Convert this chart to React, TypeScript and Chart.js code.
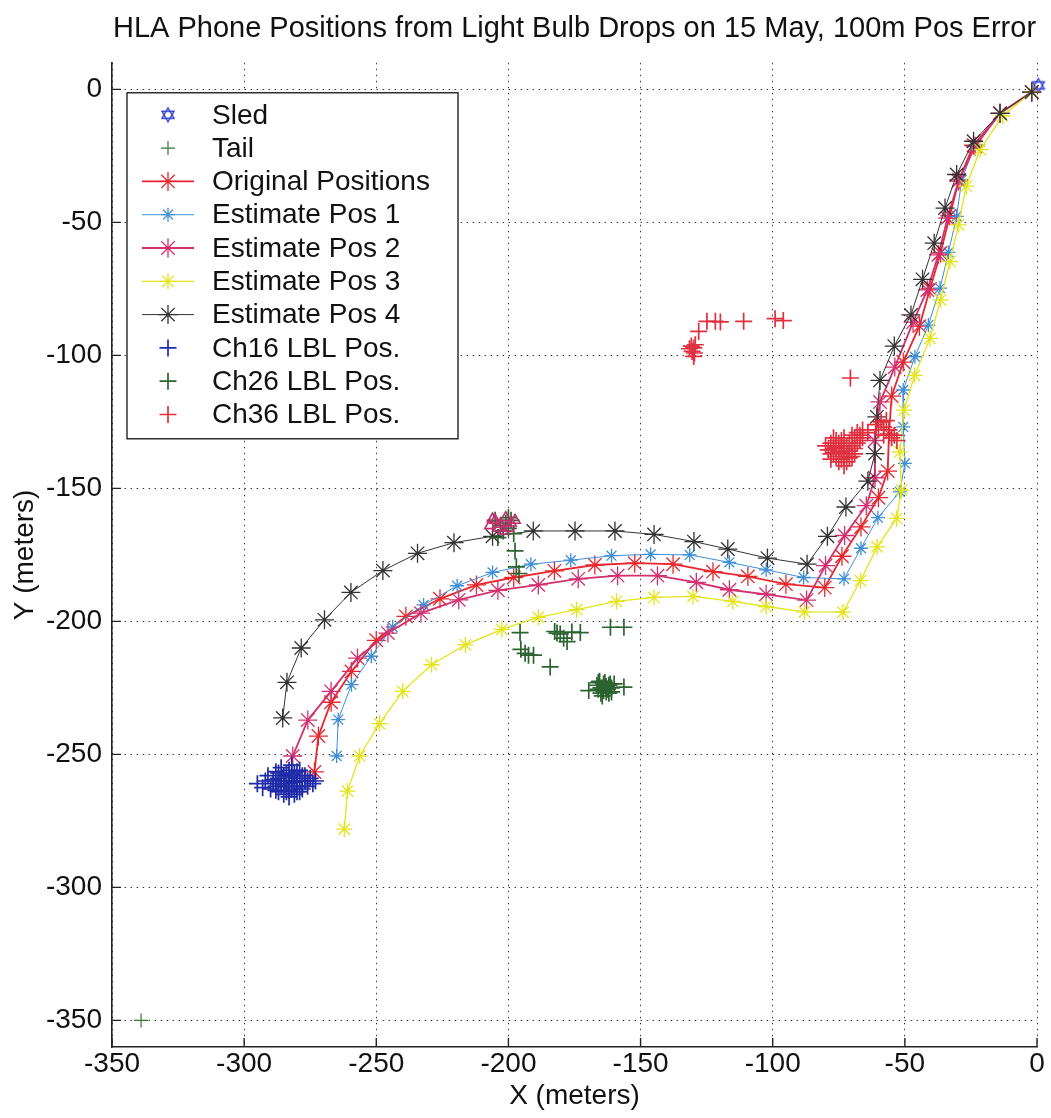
import React, { useEffect, useRef } from 'react';
import { Chart, registerables } from 'chart.js';
Chart.register(...registerables);

const TITLE = 'HLA Phone Positions from Light Bulb Drops on 15 May, 100m Pos Error';
const X_LABEL = 'X (meters)';
const Y_LABEL = 'Y (meters)';
const xTicks = [-350, -300, -250, -200, -150, -100, -50, 0];
const yTicks = [-350, -300, -250, -200, -150, -100, -50, 0];

const sled: [number, number][] = [[0.5, 1.5]];
const tail: [number, number][] = [[-339, -350]];

const originalPositions: [number, number][] = [
  [-2, -1], [-14, -9], [-24, -21], [-29.5, -34], [-33, -47.5], [-36.5, -61.5], [-40.5, -75], [-44.5, -89],
  [-50.6, -102.5], [-55, -115.3], [-56, -129.5], [-56.5, -143.5], [-60, -153.5], [-66.6, -164.5], [-73.8, -175.5],
  [-80.3, -187.3], [-95, -186], [-109.4, -183.1], [-122.6, -181.3], [-137.7, -178.5], [-152.2, -178.1],
  [-167.3, -178.8], [-182.6, -181], [-198, -183.5], [-212.1, -186.3], [-225.9, -191.5], [-238.8, -198.1],
  [-250, -207.1], [-259.4, -218.8], [-267.1, -230.4], [-271.9, -243.1], [-273.4, -256.6],
];

const estimatePos1: [number, number][] = [
  [-2, -1], [-14, -9], [-23.5, -21], [-28.5, -34], [-30.4, -47.7], [-33.5, -61.3], [-36.7, -74.7], [-41.1, -88.6],
  [-46.2, -100.5], [-50.6, -113], [-50.6, -126.9], [-50, -140.6], [-51.9, -151.3], [-60.2, -161], [-66.6, -172.5],
  [-73, -184], [-88.3, -183.5], [-102.5, -180.6], [-116.4, -177.8], [-131.4, -175], [-146.2, -174.8],
  [-161, -175.3], [-176.4, -177], [-191.5, -178.5], [-206, -181.6], [-219.4, -186.6], [-232.1, -193.8],
  [-243.8, -202.1], [-251.9, -213.1], [-259.4, -223.8], [-264.4, -236.9], [-265, -250.6],
];

const estimatePos2: [number, number][] = [
  [-2, -1], [-14, -9], [-23.4, -21.4], [-29.7, -34.5], [-33.9, -48.4], [-37.3, -62.2], [-41.5, -75.4], [-46.9, -87.5],
  [-53.8, -104.4], [-59.4, -117.5], [-61.5, -132], [-61.3, -146], [-64.6, -156.5], [-72.8, -167.7], [-80, -179],
  [-87.2, -192], [-102.5, -189.8], [-116.4, -188.1], [-128.9, -185.3], [-143.6, -182.8], [-158.7, -182.8],
  [-173.6, -184], [-188.7, -186.3], [-204, -188.3], [-218.8, -191.9], [-233.1, -196.9], [-245.6, -204.4],
  [-257.1, -213.8], [-267.1, -226.3], [-275.9, -237.1], [-281.6, -250.6],
];

const estimatePos3: [number, number][] = [
  [-2, -1], [-13, -10], [-21.5, -22.6], [-26.8, -36.4], [-29.7, -50.9], [-32.9, -64.7], [-36.5, -79.1], [-40.5, -93.6],
  [-46.3, -107.5], [-50.3, -120.6], [-51.9, -136.3], [-51.3, -150.6], [-53.1, -161.3], [-60.5, -172], [-66.8, -184.7],
  [-73.4, -196.5], [-88, -196.4], [-102.5, -194.4], [-115.1, -192.5], [-130.2, -190.6], [-144.9, -191],
  [-159.1, -192.5], [-174.2, -195.6], [-188.7, -198.5], [-202.5, -203], [-216.3, -208.8], [-229.1, -216.3],
  [-240, -226.3], [-248.8, -238.4], [-256.3, -250.6], [-260.9, -263.8], [-262.1, -278.1],
];

const estimatePos4: [number, number][] = [
  [-2, -1], [-14, -9], [-24, -19.5], [-30.4, -32], [-34.8, -44.6], [-38.9, -57.8], [-43.3, -71.4], [-47.7, -84.8],
  [-54, -96.5], [-59.4, -109.4], [-60.6, -123.1], [-61.3, -136.9], [-64, -147.3], [-72.3, -157], [-79.3, -168],
  [-87, -178.5], [-102, -176.2], [-117, -172.8], [-129.8, -170], [-144.9, -167.3], [-159.7, -166], [-174.8, -166],
  [-190.6, -166], [-206, -168], [-220.6, -170.4], [-234.4, -174.4], [-247.5, -180.9], [-259.6, -189.1],
  [-269.6, -199.4], [-278.4, -210], [-283.8, -222.9], [-285.4, -236.3],
];

const ch16Lbl: [number, number][] = [
  [-295, -261], [-293, -262.5], [-292, -260], [-290, -263], [-289, -259.5], [-288, -262], [-287, -257], [-286, -255],
  [-285, -258], [-284, -260], [-283, -256], [-282, -254], [-281, -257], [-280, -259], [-279, -256], [-278, -258],
  [-277, -260], [-276, -262], [-275, -259], [-274, -261], [-273, -260], [-285, -262], [-284, -264], [-283, -266],
  [-282, -263], [-281, -265], [-280, -262], [-279, -264], [-278, -262], [-286, -260], [-287, -264], [-284, -257.5],
  [-281, -260.5], [-283, -261], [-288, -256.5],
  [-291, -258], [-289, -261], [-287, -259], [-286, -262], [-285, -265], [-284, -262], [-283, -258.5], [-282, -260],
  [-281, -262], [-280, -256.5], [-279, -260], [-278, -263], [-277, -258], [-276, -260], [-287, -261], [-285, -260],
  [-283, -263.5], [-280, -264], [-282, -257.5], [-288, -263.5],
];

const ch26Lbl: [number, number][] = [
  [-205, -162], [-203, -164], [-201, -163], [-200, -165], [-199, -162], [-202, -166], [-204, -168.5], [-198, -167],
  [-200, -161], [-197.5, -173.5], [-197, -179.5], [-196, -182],
  [-195.6, -204.2], [-195.3, -210.5], [-193.7, -212], [-192.4, -212.7], [-190.5, -212.7], [-184.2, -217.1],
  [-182.5, -203.8], [-181.6, -204.4], [-180.4, -204.7], [-179.1, -206.3], [-177.8, -207.6], [-176, -204],
  [-172.8, -204.2], [-161.4, -202.2], [-156.3, -202.2],
  [-166.5, -224], [-165, -225], [-164, -226], [-163, -224.5], [-162, -227], [-161, -225], [-160, -223.5],
  [-164.5, -228], [-165.5, -222.5], [-163.5, -223], [-169.6, -226], [-156.3, -224.7], [-162.5, -225.5],
  [-166, -225.5], [-165, -227], [-164, -223.5], [-163, -226.5], [-162, -224], [-161, -226.5], [-164.5, -225],
  [-163, -225], [-166, -223], [-161.5, -223.5],
];

const ch36Lbl: [number, number][] = [
  [-129.9, -97.2], [-130.5, -98.5], [-129.3, -96], [-131.5, -97.5], [-129.6, -99.1], [-129.9, -100.4],
  [-130.8, -96.5], [-128, -91], [-124.9, -87.2], [-121.7, -87.2], [-119.8, -87.4], [-111, -87.2],
  [-99.1, -86.2], [-96, -86.9], [-70.6, -108.5],
  [-80, -134], [-78, -133], [-77, -135], [-76, -132], [-75, -136], [-74, -134], [-73, -131], [-72, -137],
  [-71, -133], [-70, -130], [-69, -135], [-68, -129], [-67, -132], [-66, -128], [-76, -138], [-74, -139],
  [-72, -140], [-70, -138], [-78, -137], [-73, -135], [-71, -136], [-75, -133], [-69, -131], [-67, -130],
  [-73, -141.5], [-77, -131], [-64, -129],
  [-79, -135.5], [-77, -136.5], [-76, -134.5], [-74, -136.5], [-72, -134], [-71, -138.5], [-75, -140],
  [-73, -138], [-70, -134], [-68, -133], [-78, -139], [-74, -132], [-66, -131], [-69, -137],
  [-61, -126], [-59, -125], [-58, -127], [-57, -124.5], [-60, -128], [-56, -128], [-54, -130], [-55, -131],
  [-58, -130], [-53, -132],
];

const triangleMarks: [number, number][] = [
  [-207, -164], [-205, -162], [-203, -163.5], [-201, -161], [-199, -163], [-197.5, -162], [-204, -165],
  [-200, -165], [-206, -161.5], [-202, -166],
];

const FONT = '"Liberation Sans", Arial, Helvetica, sans-serif';

const toPts = (a: [number, number][]) => a.map(([x, y]) => ({ x, y }));

function makeHexagram(color: string, r: number) {
  const c = document.createElement('canvas');
  const s = Math.ceil(r * 2 + 4);
  c.width = s; c.height = s;
  const g = c.getContext('2d')!;
  g.strokeStyle = color; g.lineWidth = 1.3;
  const cx = s / 2, cy = s / 2;
  for (const off of [-Math.PI / 2, Math.PI / 2]) {
    g.beginPath();
    for (let k = 0; k < 3; k++) {
      const a = off + (k * 2 * Math.PI) / 3;
      const px = cx + r * Math.cos(a), py = cy + r * Math.sin(a);
      if (k === 0) g.moveTo(px, py); else g.lineTo(px, py);
    }
    g.closePath(); g.stroke();
  }
  return c;
}

function drawMarker(ctx: CanvasRenderingContext2D, style: any, x: number, y: number, r: number, color: string, lw: number) {
  ctx.save();
  ctx.strokeStyle = color; ctx.lineWidth = lw;
  if (typeof style !== 'string') {
    ctx.drawImage(style, x - style.width / 2, y - style.height / 2);
  } else if (style === 'star') {
    ctx.beginPath();
    for (let k = 0; k < 4; k++) {
      const a = (k * Math.PI) / 4;
      ctx.moveTo(x - r * Math.cos(a), y - r * Math.sin(a));
      ctx.lineTo(x + r * Math.cos(a), y + r * Math.sin(a));
    }
    ctx.stroke();
  } else if (style === 'cross') {
    ctx.beginPath();
    ctx.moveTo(x - r, y); ctx.lineTo(x + r, y);
    ctx.moveTo(x, y - r); ctx.lineTo(x, y + r);
    ctx.stroke();
  }
  ctx.restore();
}

export default function App() {
  const ref = useRef<HTMLCanvasElement>(null);
  useEffect(() => {
    document.body.style.margin = '0';
    const hex = makeHexagram('#2a3ad0', 7);
    const cRed = '#e8262e', cBlue1 = '#3f8ed8', cMag = '#d2306e', cYel = '#e4e41a', cBlk = '#333333';
    const cCh16 = '#1f2aa8', cCh26 = '#2c6431', cCh36 = '#e0303f';

    const lineDs = (label: string, data: [number, number][], color: string, r: number, lw: number, order: number) => ({
      label, data: toPts(data), showLine: true, borderColor: color, backgroundColor: color,
      borderWidth: lw, pointStyle: 'star', pointRadius: r, pointBorderWidth: 1.3, pointBorderColor: color,
      order, clip: false as any, legendLine: true, legendMarker: 'star',
    });
    const crossDs = (label: string, data: [number, number][], color: string, order: number) => ({
      label, data: toPts(data), showLine: false, borderColor: color, backgroundColor: color,
      pointStyle: 'cross', pointRadius: 8.5, pointBorderWidth: 1.7, pointBorderColor: color,
      order, clip: false as any, legendLine: false, legendMarker: 'cross',
    });

    const datasets: any[] = [
      { label: 'Sled', data: toPts(sled), showLine: false, pointStyle: hex, pointRadius: 8, borderColor: '#2a3ad0',
        backgroundColor: '#2a3ad0', order: 10, clip: false, legendLine: false, legendMarker: hex },
      { ...crossDs('Tail', tail, '#2f7a34', 9), pointRadius: 7, pointBorderWidth: 1.2 },
      lineDs('Original Positions', originalPositions, cRed, 9.5, 1.8, 8),
      lineDs('Estimate Pos 1', estimatePos1, cBlue1, 7, 1, 7),
      lineDs('Estimate Pos 2', estimatePos2, cMag, 9.5, 1.8, 6),
      lineDs('Estimate Pos 3', estimatePos3, cYel, 8, 1.3, 5),
      lineDs('Estimate Pos 4', estimatePos4, cBlk, 9.5, 1, 4),
      crossDs('Ch16 LBL Pos.', ch16Lbl, cCh16, 3),
      crossDs('Ch26 LBL Pos.', ch26Lbl, cCh26, 2),
      crossDs('Ch36 LBL Pos.', ch36Lbl, cCh36, 1),
      { label: '', data: toPts(triangleMarks), showLine: false, pointStyle: 'triangle', pointRadius: 6,
        pointBorderWidth: 1.6, borderColor: '#c0306e', backgroundColor: 'rgba(0,0,0,0)', order: 0, clip: false,
        hideInLegend: true },
    ];

    const ticksPlugin = {
      id: 'innerTicks',
      afterDraw(chart: any) {
        const { ctx, chartArea: a, scales } = chart;
        ctx.save();
        ctx.strokeStyle = '#222'; ctx.lineWidth = 1.4;
        ctx.beginPath();
        for (const v of xTicks) {
          const px = scales.x.getPixelForValue(v);
          ctx.moveTo(px, a.bottom); ctx.lineTo(px, a.bottom - 9);
        }
        for (const v of yTicks) {
          const py = scales.y.getPixelForValue(v);
          ctx.moveTo(a.left, py); ctx.lineTo(a.left + 9, py);
        }
        ctx.stroke();
        ctx.restore();
      },
    };

    const legendPlugin = {
      id: 'boxLegend',
      afterDraw(chart: any) {
        const { ctx, chartArea: a } = chart;
        const items = chart.data.datasets.filter((d: any) => !d.hideInLegend);
        const x0 = a.left + 15, y0 = a.top + 30, w = 331, h = 346;
        ctx.save();
        ctx.fillStyle = '#fff';
        ctx.fillRect(x0, y0, w, h);
        ctx.strokeStyle = '#111'; ctx.lineWidth = 1.3;
        ctx.strokeRect(x0, y0, w, h);
        ctx.font = `28px ${FONT}`;
        ctx.textBaseline = 'middle';
        ctx.textAlign = 'left';
        items.forEach((d: any, i: number) => {
          const cy = y0 + 22 + i * 33.3;
          const mx = x0 + 41;
          if (d.legendLine) {
            ctx.strokeStyle = d.borderColor; ctx.lineWidth = d.borderWidth;
            ctx.beginPath(); ctx.moveTo(x0 + 15, cy); ctx.lineTo(x0 + 67, cy); ctx.stroke();
          }
          drawMarker(ctx, d.legendMarker, mx, cy, d.pointRadius, d.pointBorderColor || d.borderColor, d.pointBorderWidth || 1.2);
          ctx.fillStyle = '#111';
          ctx.fillText(d.label, x0 + 85, cy + 1);
        });
        ctx.restore();
      },
    };

    const gridColor = '#3a3a3a';
    const chart = new Chart(ref.current!, {
      type: 'scatter',
      data: { datasets },
      options: {
        animation: false,
        responsive: false,
        devicePixelRatio: 1,
        layout: { padding: { left: 0, right: 14, top: 0, bottom: 0 } },
        plugins: {
          legend: { display: false },
          tooltip: { enabled: false },
          title: {
            display: true, text: TITLE, fullSize: false, color: '#111',
            font: { family: FONT, size: 29, weight: 'normal' },
            padding: { top: 12, bottom: 16 },
          },
        },
        scales: {
          x: {
            type: 'linear', min: -350, max: 0,
            afterBuildTicks: (s: any) => { s.ticks = xTicks.map((v) => ({ value: v })); },
            afterFit: (s: any) => { s.height = 71; },
            ticks: { color: '#111', font: { family: FONT, size: 28 }, padding: 0, maxRotation: 0 },
            grid: { color: gridColor, lineWidth: 1, drawTicks: false },
            border: { display: true, color: '#222', width: 1.6, dash: [1.5, 4.5] },
            title: { display: true, text: X_LABEL, color: '#111', font: { family: FONT, size: 28 }, padding: { top: 0, bottom: 5 } },
          },
          y: {
            type: 'linear', min: -360, max: 10,
            afterBuildTicks: (s: any) => { s.ticks = yTicks.map((v) => ({ value: v })); },
            afterFit: (s: any) => { s.width = 112; },
            ticks: { color: '#111', font: { family: FONT, size: 28 }, padding: 10 },
            grid: { color: gridColor, lineWidth: 1, drawTicks: false },
            border: { display: true, color: '#222', width: 1.6, dash: [1.5, 4.5] },
            title: { display: true, text: Y_LABEL, color: '#111', font: { family: FONT, size: 28 }, padding: { top: 8, bottom: 0 } },
          },
        },
      } as any,
      plugins: [ticksPlugin, legendPlugin],
    });
    return () => chart.destroy();
  }, []);
  return <canvas ref={ref} width={1051} height={1118} style={{ display: 'block', width: 1051, height: 1118 }} />;
}
